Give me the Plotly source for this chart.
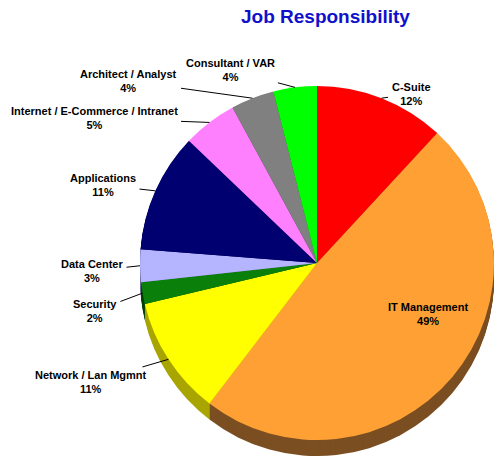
import math
import plotly.graph_objects as go

# ---- data ----
labels = ["C-Suite", "IT Management", "Network / Lan Mgmnt", "Security", "Data Center",
          "Applications", "Internet / E-Commerce / Intranet", "Architect / Analyst", "Consultant / VAR"]
values = [12, 49, 11, 2, 3, 11, 5, 4, 4]
colors = ["#FF0000", "#FFA035", "#FFFF00", "#0A800A", "#B4B4FF",
          "#000070", "#FF80FF", "#808080", "#00FF00"]
side_colors = ["#7A0000", "#7B4F22", "#A8A400", "#054205", "#6A6A99",
               "#000038", "#8A448A", "#444444", "#008A00"]
title = "Job Responsibility"

# ---- layout / style ----
W, H = 494, 456
cx, cy, R = 317, 263, 177   # pie centre and radius in pixels
depth = 16                  # 3-D extrusion depth in pixels

def dom(cx, cy):
    return dict(x=[(cx - R) / W, min(1.0, (cx + R) / W)],
                y=[max(0.0, 1 - (cy + R) / H), 1 - (cy - R) / H])

fig = go.Figure()
# extrusion layers (drawn back to front)
for d in range(depth, 0, -1):
    fig.add_trace(go.Pie(labels=labels, values=values, sort=False, direction="clockwise",
                         rotation=0, marker=dict(colors=side_colors, line=dict(width=0)),
                         textinfo="none", hoverinfo="skip", showlegend=False,
                         domain=dom(cx, cy + d)))
# top face
fig.add_trace(go.Pie(labels=labels, values=values, sort=False, direction="clockwise",
                     rotation=0, marker=dict(colors=colors, line=dict(width=0)),
                     textinfo="none", showlegend=False, domain=dom(cx, cy)))

# label text positions (pixel centre of each two-line label)
label_pos = {
    "C-Suite": (411, 94),
    "IT Management": (428, 314),
    "Network / Lan Mgmnt": (91, 382),
    "Security": (95, 311),
    "Data Center": (92, 271),
    "Applications": (103, 185),
    "Internet / E-Commerce / Intranet": (94, 118),
    "Architect / Analyst": (129, 81),
    "Consultant / VAR": (230, 70),
}

total = sum(values)
cum = 0
annotations = []
font = dict(family="Liberation Sans, Arial, sans-serif", size=11, color="#000000")
for lab, v in zip(labels, values):
    mid = (cum + v / 2) / total
    cum += v
    ang = mid * 2 * math.pi
    pct = round(100 * v / total)
    tx, ty = label_pos[lab]
    text = f"<b>{lab}<br>{pct}%</b>"
    if lab == "IT Management":
        annotations.append(dict(x=tx / W, y=1 - ty / H, xref="paper", yref="paper",
                                xanchor="center", yanchor="middle",
                                text=text, showarrow=False, font=font))
        continue
    ex = cx + R * math.sin(ang)
    ey = cy - R * math.cos(ang)
    annotations.append(dict(x=ex / W, y=1 - ey / H, xref="paper", yref="paper",
                            ax=tx - ex, ay=ty - ey, text=text, showarrow=True,
                            arrowhead=0, arrowwidth=1, arrowcolor="#000000",
                            standoff=0, startstandoff=2, font=font))

annotations.append(dict(x=325.5 / W, y=1 - 16 / H, xref="paper", yref="paper",
                        xanchor="center", yanchor="middle",
                        text=f"<b>{title}</b>", showarrow=False,
                        font=dict(family="Liberation Sans, Arial, sans-serif", size=19,
                                  color="#1010CC")))

fig.update_layout(width=W, height=H, margin=dict(l=0, r=0, t=0, b=0),
                  paper_bgcolor="white", plot_bgcolor="white",
                  annotations=annotations, showlegend=False)

fig.write_html("out.html")
